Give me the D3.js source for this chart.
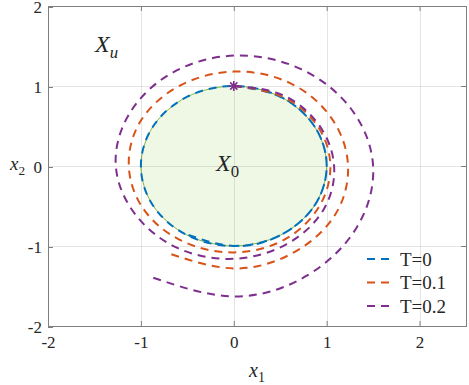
<!DOCTYPE html>
<html>
<head>
<meta charset="utf-8">
<script src="https://cdn.jsdelivr.net/npm/d3@7"></script>
<style>
  body { margin: 0; background: #fff; }
  svg text { fill: #262626; }
</style>
</head>
<body>
<svg width="469" height="385"></svg>
<script>
// angle along the curve, degrees clockwise from the +x2 axis (the star at (0,1))
var angles = [0, 30, 60, 90, 120, 150, 180, 210, 240, 270, 300, 330, 360, 390, 420, 450, 480, 510, 540, 573]
// radius for each T
var rT0  = [1, 1, 1, 1, 1, 1, 1, 1, 1, 1, 1, 1, 1, 1, 1, 1, 1, 1, 1, 1]
var rT01 = [1.00, 1.01, 1.03, 1.04, 1.05, 1.07, 1.08, 1.09, 1.11, 1.13, 1.15, 1.16, 1.18, 1.20, 1.21, 1.23, 1.25, 1.26, 1.28, 1.30]
var rT02 = [1.00, 1.03, 1.05, 1.08, 1.11, 1.13, 1.16, 1.19, 1.22, 1.27, 1.30, 1.34, 1.38, 1.41, 1.45, 1.50, 1.53, 1.58, 1.63, 1.65]
var seriesNames = ["T=0", "T=0.1", "T=0.2"]
var seriesColors = ["#0072BD", "#D95319", "#7E2F8E"]
// initial set X0 boundary (unit circle)
var x0Angles = [0, 30, 60, 90, 120, 150, 180, 210, 240, 270, 300, 330]
var x0Radius = 1
var startPoint = [0, 1]
var xTicks = [-2, -1, 0, 1, 2]
var yTicks = [-2, -1, 0, 1, 2]

var svg = d3.select("svg")
var pLeft = 48, pRight = 466, pTop = 6, pBottom = 326
var serif = "'Liberation Serif', 'DejaVu Serif', serif"

var x = d3.scaleLinear().domain([-2, 2.5]).range([pLeft, pRight])
var y = d3.scaleLinear().domain([-2, 2]).range([pBottom, pTop])
var rad = function(a) { return a * Math.PI / 180 }

var polar = d3.line()
    .x(function(d) { return x(d[1] * Math.sin(rad(d[0]))) })
    .y(function(d) { return y(d[1] * Math.cos(rad(d[0]))) })

// X0 region
svg.append("path")
    .datum(x0Angles.map(function(a) { return [a, x0Radius] }))
    .attr("d", polar.curve(d3.curveCardinalClosed.tension(0.02)))
    .attr("fill", "#eef8e4")
    .attr("stroke", "#77AC30")
    .attr("stroke-width", 0.9)

// grid
var grid = svg.append("g").attr("stroke", "#262626").attr("stroke-opacity", 0.12)
grid.selectAll(".gx").data(xTicks).enter().append("line")
    .attr("x1", function(d) { return Math.round(x(d)) + 0.5 }).attr("x2", function(d) { return Math.round(x(d)) + 0.5 })
    .attr("y1", pTop).attr("y2", pBottom)
grid.selectAll(".gy").data(yTicks).enter().append("line")
    .attr("y1", function(d) { return Math.round(y(d)) + 0.5 }).attr("y2", function(d) { return Math.round(y(d)) + 0.5 })
    .attr("x1", pLeft).attr("x2", pRight)

// curves
var radii = [rT0, rT01, rT02]
var lineGen = d3.line()
    .x(function(d) { return x(d[1] * Math.sin(rad(d[0]))) })
    .y(function(d) { return y(d[1] * Math.cos(rad(d[0]))) })
    .curve(d3.curveNatural)
radii.forEach(function(r, i) {
    svg.append("path")
        .datum(angles.map(function(a, j) { return [a, r[j]] }))
        .attr("d", lineGen)
        .attr("fill", "none")
        .attr("stroke", seriesColors[i])
        .attr("stroke-width", 2)
        .attr("stroke-dasharray", "8,6")
})

// start marker (asterisk)
var sx = x(startPoint[0]), sy = y(startPoint[1]), m = 5
svg.append("path")
    .attr("d", "M" + (sx - m) + "," + sy + "H" + (sx + m) +
               "M" + sx + "," + (sy - m) + "V" + (sy + m) +
               "M" + (sx - m * 0.72) + "," + (sy - m * 0.72) + "L" + (sx + m * 0.72) + "," + (sy + m * 0.72) +
               "M" + (sx - m * 0.72) + "," + (sy + m * 0.72) + "L" + (sx + m * 0.72) + "," + (sy - m * 0.72))
    .attr("stroke", seriesColors[2])
    .attr("stroke-width", 1.6)

// axes
var fmt = function(d) { return String(d) }
function styleAxis(g) {
    g.select(".domain").remove()
    g.selectAll(".tick line").attr("stroke", "#7f7f7f")
    g.selectAll("text").attr("fill", "#262626").attr("font-size", 17)
        .attr("font-family", serif)
}
svg.append("g").attr("transform", "translate(0," + pBottom + ")")
    .call(d3.axisBottom(x).tickValues(xTicks).tickFormat(fmt).tickSize(-5).tickPadding(10)).call(styleAxis)
svg.append("g").attr("transform", "translate(0," + pTop + ")")
    .call(d3.axisTop(x).tickValues(xTicks).tickFormat("").tickSize(-5)).call(styleAxis)
svg.append("g").attr("transform", "translate(" + pLeft + ",1)")
    .call(d3.axisLeft(y).tickValues(yTicks).tickFormat(fmt).tickSize(-5).tickPadding(6)).call(styleAxis)
svg.append("g").attr("transform", "translate(" + pRight + ",0)")
    .call(d3.axisRight(y).tickValues(yTicks).tickFormat("").tickSize(-5)).call(styleAxis)

svg.append("rect")
    .attr("x", pLeft + 0.5).attr("y", pTop + 0.5)
    .attr("width", pRight - pLeft).attr("height", pBottom - pTop)
    .attr("fill", "none").attr("stroke", "#7f7f7f")

// labels
function mathText(px, py, main, sub, size, anchor) {
    var t = svg.append("text").attr("x", px).attr("y", py)
        .attr("text-anchor", anchor || "start")
        .attr("font-family", serif)
        .attr("font-size", size).attr("font-style", "italic")
    t.append("tspan").text(main)
    t.append("tspan").attr("dy", size * 0.25).attr("font-size", size * 0.7)
        .attr("font-style", /[0-9]/.test(sub) ? "normal" : "italic").text(sub)
}
mathText(257, 377, "x", "1", 20, "middle")
mathText(10, 170, "x", "2", 19)
mathText(95, 52, "X", "u", 24)
mathText(216, 171, "X", "0", 24)

// legend
var legend = svg.append("g")
seriesNames.forEach(function(name, i) {
    var ly = 259 + i * 23.5
    legend.append("line")
        .attr("x1", 367).attr("x2", 390).attr("y1", ly).attr("y2", ly)
        .attr("stroke", seriesColors[i]).attr("stroke-width", 2)
        .attr("stroke-dasharray", "8,6")
    legend.append("text").attr("x", 400).attr("y", ly + 6.5)
        .attr("font-family", serif)
        .attr("font-size", 19).text(name)
})
</script>
</body>
</html>
